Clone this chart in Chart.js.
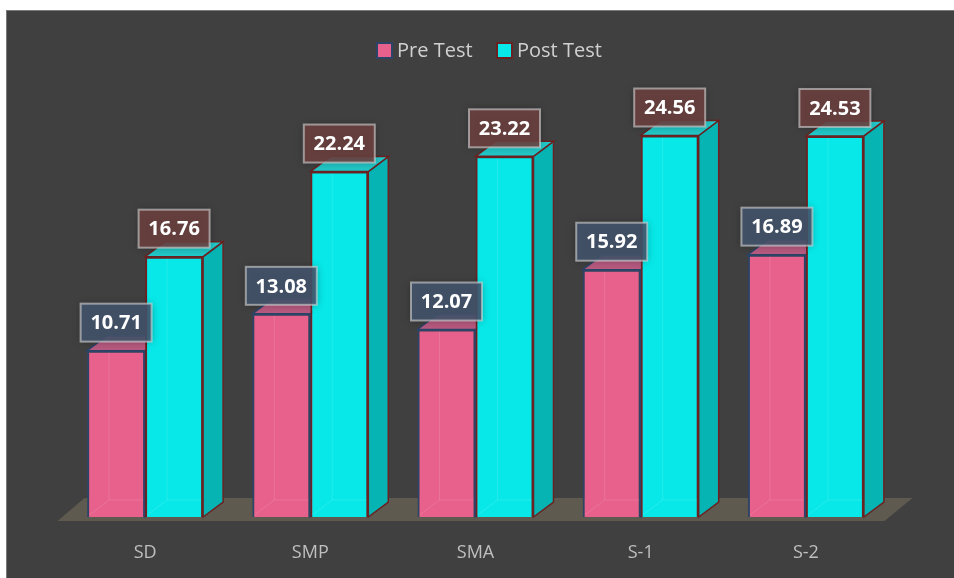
<!DOCTYPE html>
<html>
<head>
<meta charset="utf-8">
<script src="https://cdn.jsdelivr.net/npm/chart.js@4.4.0/dist/chart.umd.min.js"></script>
<style>
  html, body { margin: 0; padding: 0; background: #fff; }
  #frame {
    position: absolute; left: 6px; top: 10px;
    width: 960px; height: 580px;
    background: #404040; border: 1px solid #7a7a7a;
    overflow: hidden;
  }
  #chart { position: absolute; left: 0; top: 0; }
</style>
</head>
<body>
<div id="frame"><canvas id="chart" width="947" height="567"></canvas></div>
<script>
const categories = ['SD', 'SMP', 'SMA', 'S-1', 'S-2'];
const preTest = [10.71, 13.08, 12.07, 15.92, 16.89];
const postTest = [16.76, 22.24, 23.22, 24.56, 24.53];
const seriesNames = ['Pre Test', 'Post Test'];

// colours per series: front, side, top, edge, label box
const looks = [
  { front: '#e8608c', side: '#b84670', top: '#b85a80', edge: '#2c4468', box: 'rgba(68, 84, 108, 0.88)' },
  { front: '#08e8e8', side: '#06b4b4', top: '#22c8c8', edge: '#6a2222', box: 'rgba(108, 64, 64, 0.88)' }
];
const depth = { x: 20, y: 15 };

const bar3d = {
  id: 'bar3d',
  beforeDatasetsDraw(chart) {
    const { ctx, chartArea, scales } = chart;
    const y0 = scales.y.getPixelForValue(0);
    ctx.save();
    // floor
    ctx.fillStyle = '#5e5a4f';
    ctx.beginPath();
    ctx.moveTo(chartArea.left - 5, y0 + 4);
    ctx.lineTo(chartArea.right - 4, y0 + 4);
    ctx.lineTo(chartArea.right + 24, y0 - 19);
    ctx.lineTo(chartArea.left + 22, y0 - 19);
    ctx.closePath();
    ctx.fill();
    // side and top faces
    chart.data.datasets.forEach((ds, i) => {
      const look = looks[i];
      chart.getDatasetMeta(i).data.forEach(bar => {
        const l = bar.x - bar.width / 2, r = bar.x + bar.width / 2;
        const t = bar.y, b = bar.base;
        ctx.lineWidth = 1.5;
        ctx.strokeStyle = look.edge;
        ctx.fillStyle = look.side;
        ctx.beginPath();
        ctx.moveTo(r, b);
        ctx.lineTo(r + depth.x, b - depth.y);
        ctx.lineTo(r + depth.x, t - depth.y);
        ctx.lineTo(r, t);
        ctx.closePath();
        ctx.fill();
        ctx.stroke();
        ctx.fillStyle = look.top;
        ctx.beginPath();
        ctx.moveTo(l, t);
        ctx.lineTo(l + depth.x, t - depth.y);
        ctx.lineTo(r + depth.x, t - depth.y);
        ctx.lineTo(r, t);
        ctx.closePath();
        ctx.fill();
        ctx.stroke();
      });
    });
    ctx.restore();
  },
  afterDatasetsDraw(chart) {
    const { ctx } = chart;
    ctx.save();
    // faint inner back edges seen through the glassy fronts
    chart.data.datasets.forEach((ds, i) => {
      chart.getDatasetMeta(i).data.forEach(bar => {
        const l = bar.x - bar.width / 2 + 2, r = bar.x + bar.width / 2 - 2;
        const b = bar.base - 2;
        ctx.strokeStyle = 'rgba(255,255,255,0.12)';
        ctx.lineWidth = 1;
        ctx.beginPath();
        ctx.moveTo(l, b);
        ctx.lineTo(l + depth.x, b - depth.y);
        ctx.lineTo(r, b - depth.y);
        ctx.moveTo(l + depth.x, b - depth.y);
        ctx.lineTo(l + depth.x, bar.y + 2);
        ctx.stroke();
      });
    });
    // value labels
    chart.data.datasets.forEach((ds, i) => {
      chart.getDatasetMeta(i).data.forEach((bar, j) => {
        const w = 71, h = 38;
        const cx = bar.x, cy = bar.y - 28;
        ctx.shadowColor = 'rgba(0,0,0,0.35)';
        ctx.shadowBlur = 8;
        ctx.fillStyle = looks[i].box;
        ctx.fillRect(cx - w / 2, cy - h / 2, w, h);
        ctx.shadowBlur = 0;
        ctx.strokeStyle = 'rgba(215,215,215,0.6)';
        ctx.lineWidth = 2;
        ctx.strokeRect(cx - w / 2, cy - h / 2, w, h);
        ctx.fillStyle = '#ffffff';
        ctx.font = 'bold 20px "Open Sans", sans-serif';
        ctx.textAlign = 'center';
        ctx.textBaseline = 'middle';
        ctx.fillText(ds.data[j].toFixed(2), cx, cy + 1);
      });
    });
    ctx.restore();
  },
  afterDraw(chart) {
    const { ctx } = chart;
    ctx.save();
    const items = [{ x: 370, text: seriesNames[0] }, { x: 490, text: seriesNames[1] }];
    items.forEach((it, i) => {
      ctx.fillStyle = looks[i].front;
      ctx.strokeStyle = looks[i].edge;
      ctx.lineWidth = 2;
      ctx.fillRect(it.x, 32, 15, 15);
      ctx.strokeRect(it.x, 32, 15, 15);
      ctx.fillStyle = '#d0d0d0';
      ctx.font = '20px "Open Sans", sans-serif';
      ctx.textAlign = 'left';
      ctx.textBaseline = 'middle';
      ctx.fillText(it.text, it.x + 20, 40);
    });
    ctx.restore();
  }
};

new Chart(document.getElementById('chart'), {
  type: 'bar',
  data: {
    labels: categories,
    datasets: [
      { label: seriesNames[0], data: preTest, backgroundColor: looks[0].front, borderColor: looks[0].edge, borderWidth: 2 },
      { label: seriesNames[1], data: postTest, backgroundColor: looks[1].front, borderColor: looks[1].edge, borderWidth: 2 }
    ]
  },
  options: {
    responsive: false,
    animation: false,
    layout: { padding: { left: 55.5, right: 65.5, top: 40, bottom: 0 } },
    categoryPercentage: 0.702,
    barPercentage: 1,
    plugins: { legend: { display: false }, tooltip: { enabled: false } },
    scales: {
      x: {
        grid: { display: false },
        border: { display: false },
        ticks: { color: '#bfbfbf', font: { family: '"Open Sans", sans-serif', size: 18 }, padding: 17 },
        afterFit(scale) { scale.height = 61; }
      },
      y: {
        display: false,
        min: 0,
        max: 30
      }
    }
  },
  plugins: [bar3d]
});
</script>
</body>
</html>
